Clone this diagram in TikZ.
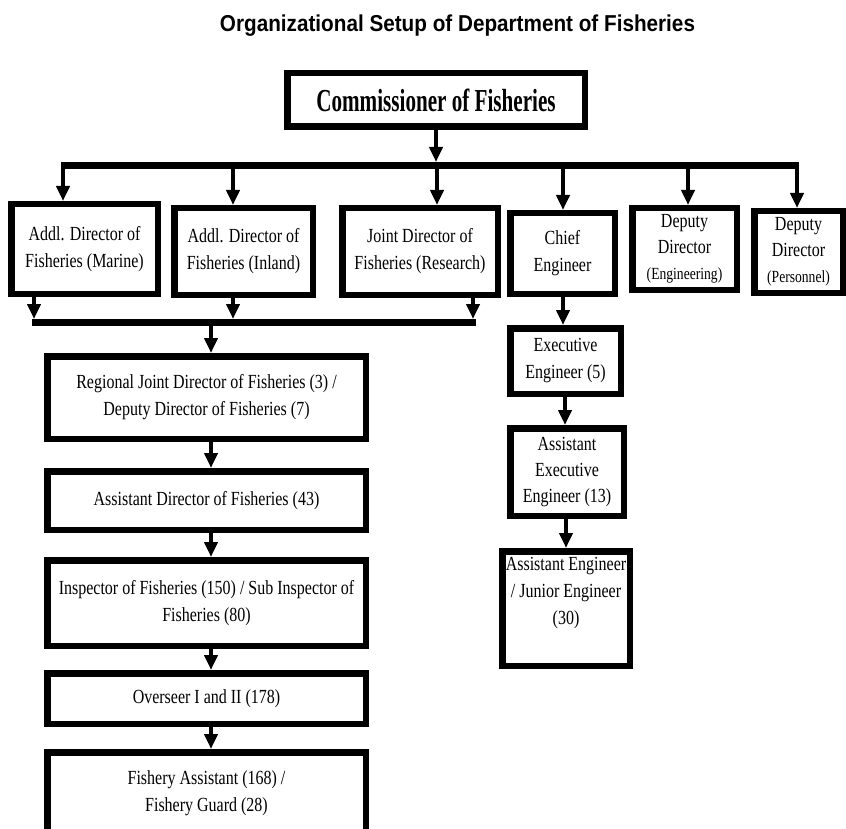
\documentclass[tikz,border=0pt]{standalone}
\usepackage{fontspec}
\usetikzlibrary{arrows.meta}
\setmainfont{Liberation Serif}
\newfontfamily\boxfont[FakeStretch=0.8]{Liberation Serif}
\newfontfamily\commfont[FakeStretch=0.66]{Liberation Serif}
\newfontfamily\titlefont[FakeStretch=0.9]{Liberation Sans}
\tikzset{
    orgbox/.style={draw,line width=6.5pt,inner sep=0pt,align=center,
        font=\boxfont\fontsize{20}{27}\selectfont},
    arr/.style={line width=4pt,-{Triangle[width=13pt,length=15pt]}},
    hbar/.style={line width=7pt}
}
\newcommand{\smalltag}[1]{{\fontsize{17}{24}\selectfont #1}}

\begin{document}
\begin{tikzpicture}[x=1pt,y=-1pt]
                    \useasboundingbox (0,0) rectangle (846,829);
                    \node[anchor=base,font=\titlefont\bfseries\fontsize{23}{28}\selectfont] (title) at (457.5,32) {Organizational Setup of Department of Fisheries};
                    \node[orgbox,font=\commfont\bfseries\fontsize{32}{36}\selectfont,minimum width=297.5pt,minimum height=53.5pt] (comm) at (436,100) {Commissioner of Fisheries};

                    \node[orgbox,minimum width=146.5pt,minimum height=89.5pt] (marine) at (84.5,249) {Addl. Director of\\Fisheries (Marine)};
                    \node[orgbox,minimum width=138.5pt,minimum height=86.5pt] (inland) at (243.5,251.5) {Addl. Director of\\Fisheries (Inland)};
                    \node[orgbox,minimum width=155.5pt,minimum height=86.5pt] (research) at (420,251.5) {Joint Director of\\Fisheries (Research)};
                    \node[orgbox,minimum width=104.5pt,minimum height=80.5pt] (chief) at (562.5,253.5) {Chief\\Engineer};
                    \node[orgbox,minimum width=104.5pt,minimum height=81.5pt,font=\boxfont\fontsize{20}{26}\selectfont] (depeng) at (684.5,249) {Deputy\\Director\\\smalltag{(Engineering)}};
                    \node[orgbox,minimum width=88.5pt,minimum height=81.5pt,font=\boxfont\fontsize{20}{26}\selectfont] (deppers) at (798.5,252) {Deputy\\Director\\\smalltag{(Personnel)}};

                    \node[orgbox,minimum width=318.5pt,minimum height=82.5pt] (reg) at (206.5,397.5) {Regional Joint Director of Fisheries (3) /\\Deputy Director of Fisheries (7)};
                    \node[orgbox,minimum width=318.5pt,minimum height=58.5pt] (asstdir) at (206.5,500.5) {Assistant Director of Fisheries (43)};
                    \node[orgbox,minimum width=318.5pt,minimum height=85.5pt] (insp) at (206.5,603) {Inspector of Fisheries (150) / Sub Inspector of\\Fisheries (80)};
                    \node[orgbox,minimum width=318.5pt,minimum height=50.5pt] (overseer) at (206.5,698.5) {Overseer I and II (178)};
                    \node[orgbox,minimum width=318.5pt,minimum height=82.5pt] (fishasst) at (206.5,793.5) {Fishery Assistant (168) /\\Fishery Guard (28)};

                    \node[orgbox,minimum width=110.5pt,minimum height=65.5pt] (exec) at (565.5,361) {Executive\\Engineer (5)};
                    \node[orgbox,minimum width=113.5pt,minimum height=87.5pt,font=\boxfont\fontsize{20}{26}\selectfont] (asstexec) at (567,472) {Assistant\\Executive\\Engineer (13)};
                    \node[orgbox,minimum width=127.5pt,minimum height=114.5pt] (assteng) at (566,608.5) {Assistant Engineer\\/ Junior Engineer\\(30)\\\strut};

                    \coordinate (b1l) at (61,165.5);
                    \coordinate (b1r) at (799,165.5);
                    \coordinate (b1top) at (436,162);
                    \draw[hbar] (b1l) -- (b1r);
                    \draw[arr] (comm.south) -- (b1top);
                    \foreach \x/\n in {63/marine,233/inland,437/research,563/chief,688/depeng,797/deppers}
                        \draw[arr] (\x,165.5) -- (\x,0 |- \n.north);

                    \coordinate (b2l) at (32,322.5);
                    \coordinate (b2r) at (476,322.5);
                    \draw[hbar] (b2l) -- (b2r);
                    \foreach \x/\n in {34/marine,233/inland,473/research}
                        \draw[arr] (\x,0 |- \n.south) -- (\x,319);
                    \draw[arr] (211,322.5) -- (211,0 |- reg.north);

                    \foreach \a/\b in {reg/asstdir,asstdir/insp,insp/overseer,overseer/fishasst}
                        \draw[arr] (211,0 |- \a.south) -- (211,0 |- \b.north);
                    \foreach \a/\b/\x in {chief/exec/563,exec/asstexec/565,asstexec/assteng/566}
                        \draw[arr] (\x,0 |- \a.south) -- (\x,0 |- \b.north);
                \end{tikzpicture}
\end{document}
